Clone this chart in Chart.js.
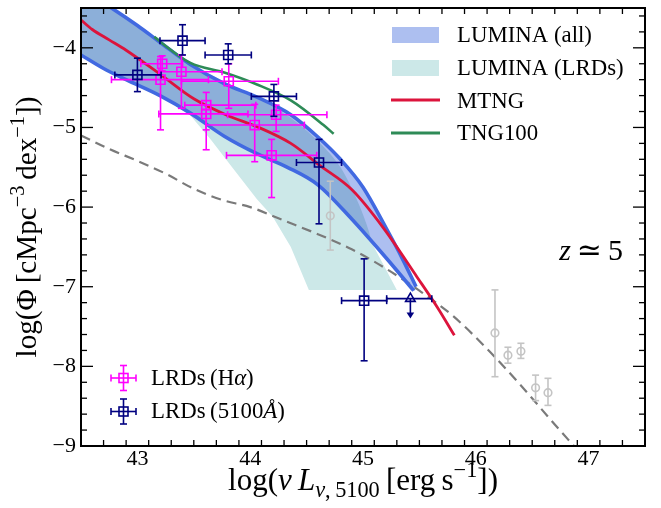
<!DOCTYPE html>
<html><head><meta charset="utf-8">
<script src="https://cdn.jsdelivr.net/npm/chart.js@4.4.0/dist/chart.umd.min.js"></script>
<style>html,body{margin:0;padding:0;background:#fff;}#wrap{width:661px;height:508px;}</style>
</head><body><div id="wrap"><canvas id="c" width="661" height="508"></canvas></div>
<script>
// ---------------- data ----------------
const xTickValues = [43, 44, 45, 46, 47];
const yTickValues = [-9, -8, -7, -6, -5, -4];

const luminaAllUpperX = [42.5, 42.76, 43.0, 43.2, 43.47, 43.77, 44.06, 44.36, 44.6, 44.8, 45.0, 45.2, 45.35, 45.47];
const luminaAllUpperY = [-3.26, -3.49, -3.72, -3.93, -4.21, -4.45, -4.62, -4.84, -5.12, -5.40, -5.75, -6.25, -6.65, -7.0];
const luminaAllLowerX = [42.5, 42.7, 42.9, 43.2, 43.47, 43.77, 44.06, 44.33, 44.6, 44.9, 45.2, 45.45];
const luminaAllLowerY = [-4.09, -4.26, -4.40, -4.60, -4.82, -5.11, -5.33, -5.50, -5.72, -6.15, -6.63, -7.05];

const luminaLrdUpperX = [42.5, 43.0, 43.47, 44.06, 44.36, 44.6, 44.8, 44.98, 45.07, 45.18, 45.30];
const luminaLrdUpperY = [-3.26, -3.72, -4.21, -4.63, -4.88, -5.17, -5.50, -6.02, -6.43, -6.72, -7.04];
const luminaLrdLowerX = [42.5, 42.9, 43.2, 43.47, 43.65, 43.85, 44.06, 44.2, 44.36, 44.52, 45.30];
const luminaLrdLowerY = [-4.09, -4.40, -4.60, -4.85, -5.15, -5.52, -5.90, -6.12, -6.50, -7.04, -7.04];

const mtngX = [42.5, 42.6, 42.75, 42.9, 43.2, 43.5, 43.8, 44.06, 44.36, 44.62, 44.9, 45.18, 45.48, 45.66, 45.81];
const mtngY = [-3.65, -3.77, -3.90, -4.03, -4.33, -4.64, -4.85, -4.99, -5.20, -5.48, -5.78, -6.26, -6.88, -7.26, -7.61];
const tng100X = [43.15, 43.2, 43.47, 43.77, 44.06, 44.36, 44.65, 44.74];
const tng100Y = [-3.86, -3.92, -4.19, -4.31, -4.46, -4.66, -4.97, -5.08];
const refX = [42.5, 42.75, 43.0, 43.25, 43.5, 43.75, 44.0, 44.3, 44.6, 44.9, 45.2, 45.5, 45.8, 46.1, 46.4, 46.7, 46.87];
const refY = [-5.10, -5.27, -5.42, -5.58, -5.77, -5.91, -6.00, -6.17, -6.34, -6.53, -6.77, -7.05, -7.37, -7.78, -8.24, -8.73, -9.0];

const haX   = [43.22, 43.205, 43.39, 43.81, 43.61, 43.61, 44.04, 44.23, 44.19];
const haY   = [-4.20, -4.40, -4.30, -4.42, -4.72, -4.83, -4.97, -4.84, -5.35];
const haXlo = [43.03, 42.77, 43.19, 43.39, 43.42, 43.19, 43.61, 43.80, 43.79];
const haXhi = [43.40, 43.63, 43.75, 44.25, 44.05, 43.98, 44.48, 44.68, 44.59];
const haYlo = [-4.29, -5.03, -4.76, -4.76, -5.03, -5.28, -5.43, -5.05, -5.88];
const haYhi = [-4.10, -4.11, -4.09, -4.20, -4.56, -4.72, -4.71, -4.72, -5.15];

const contX   = [43.00, 43.40, 43.805, 44.21, 44.61, 45.01];
const contY   = [-4.34, -3.91, -4.09, -4.61, -5.44, -7.175];
const contXlo = [42.80, 43.20, 43.60, 44.01, 44.41, 44.81];
const contXhi = [43.21, 43.60, 44.01, 44.41, 44.81, 45.21];
const contYlo = [-4.55, -4.09, -4.20, -4.86, -6.21, -7.93];
const contYhi = [-4.13, -3.71, -3.95, -4.46, -5.15, -6.65];

const limX = [45.42], limY = [-7.15], limXlo = [45.21], limXhi = [45.61], limArrowTo = [-7.40];

const grayX   = [44.71, 46.17, 46.285, 46.40, 46.53, 46.64];
const grayY   = [-6.11, -7.58, -7.86, -7.81, -8.27, -8.33];
const grayYlo = [-6.54, -8.13, -7.96, -7.90, -8.43, -8.49];
const grayYhi = [-5.675, -7.04, -7.76, -7.71, -8.11, -8.15];

// ---------------- helpers ----------------
const pts = (xs, ys) => xs.map((x, i) => ({x, y: ys[i]}));
const poly = (ux, uy, lx, ly) => pts(ux, uy).concat(pts(lx, ly).reverse());
const overlapEnd = 45.07; // where the LRD band edge meets the lower LUMINA edge
const overlapPoly = () => pts(luminaLrdUpperX, luminaLrdUpperY).filter(p => p.x <= overlapEnd)
  .concat(pts(luminaAllLowerX, luminaAllLowerY).filter(p => p.x < overlapEnd).reverse());
const errs = (xs, ys, xlo, xhi, ylo, yhi) => xs.map((x, i) => ({x, y: ys[i],
  xlo: xlo ? xlo[i] : null, xhi: xhi ? xhi[i] : null, ylo: ylo ? ylo[i] : null, yhi: yhi ? yhi[i] : null}));

const SERIF = "'Liberation Serif','Times New Roman','DejaVu Serif',serif";
const fnt = (sz, it) => (it ? 'italic ' : '') + sz + 'px ' + SERIF;
function richW(ctx, segs, sz) { let w = 0; for (const s of segs) { ctx.font = fnt(sz * (s.s || 1), s.it); w += ctx.measureText(s.t).width; } return w; }
function richDraw(ctx, segs, x, y, sz) {
  let cx = x; ctx.textAlign = 'left';
  for (const s of segs) { ctx.font = fnt(sz * (s.s || 1), s.it); ctx.fillText(s.t, cx, y + (s.dy || 0) * sz); cx += ctx.measureText(s.t).width; }
}
function fitSize(ctx, segs, w, lo, hi) { const s = w / (richW(ctx, segs, 100) / 100); return Math.max(lo, Math.min(hi, s)); }

const NAVY = '#000080', MAG = '#ff00ff', GRAY = '#c4c4c4', BLUE = '#4169e1', RED = '#dc143c', GREEN = '#2e8b57';
const ALLFILL = '#adbff0', LRDFILL = '#cce8e8', BOTHFILL = '#8cafd9';

function capLine(ctx, x1, y1, x2, y2) { ctx.beginPath(); ctx.moveTo(x1, y1); ctx.lineTo(x2, y2); ctx.stroke(); }
function drawErr(ctx, xs, ys, e, cap) {
  const px = xs.getPixelForValue(e.x), py = ys.getPixelForValue(e.y);
  if (e.xlo !== null) {
    const a = xs.getPixelForValue(e.xlo), b = xs.getPixelForValue(e.xhi);
    capLine(ctx, a, py, b, py); capLine(ctx, a, py - cap, a, py + cap); capLine(ctx, b, py - cap, b, py + cap);
  }
  if (e.ylo !== null) {
    const a = ys.getPixelForValue(e.ylo), b = ys.getPixelForValue(e.yhi);
    capLine(ctx, px, a, px, b); capLine(ctx, px - cap, a, px + cap, a); capLine(ctx, px - cap, b, px + cap, b);
  }
}

const errPlugin = {
  id: 'errbars',
  beforeDatasetDraw(chart, args) {
    const ds = chart.data.datasets[args.index];
    if (!ds.errData) return;
    const {ctx, chartArea: a} = chart, xs = chart.scales.x, ys = chart.scales.y;
    ctx.save();
    ctx.beginPath(); ctx.rect(a.left, a.top, a.right - a.left, a.bottom - a.top); ctx.clip();
    ctx.strokeStyle = ds.borderColor; ctx.fillStyle = ds.borderColor; ctx.lineWidth = 1.6; ctx.lineCap = 'butt';
    for (const e of ds.errData) drawErr(ctx, xs, ys, e, 3.5);
    if (ds.arrowTo) {
      ds.errData.forEach((e, i) => {
        const px = xs.getPixelForValue(e.x), py = ys.getPixelForValue(e.y), pe = ys.getPixelForValue(ds.arrowTo[i]);
        capLine(ctx, px, py, px, pe - 5);
        ctx.beginPath(); ctx.moveTo(px - 3.8, pe - 6); ctx.lineTo(px + 3.8, pe - 6); ctx.lineTo(px, pe); ctx.closePath(); ctx.fill();
      });
    }
    ctx.restore();
  }
};

const decorPlugin = {
  id: 'decor',
  afterDraw(chart) {
    const {ctx, chartArea: a} = chart, xs = chart.scales.x, ys = chart.scales.y;
    ctx.save();
    ctx.strokeStyle = '#000'; ctx.lineWidth = 1.3;
    const MAJ = 12, MIN = 6;
    for (let k = 0; k <= 25; k++) {
      const v = 42.5 + k * 0.2; const px = xs.getPixelForValue(v);
      if (px < a.left + 1 || px > a.right - 1) continue;
      const L = Math.abs(v - Math.round(v)) < 1e-6 ? MAJ : MIN;
      capLine(ctx, px, a.bottom, px, a.bottom - L); capLine(ctx, px, a.top, px, a.top + L);
    }
    for (let k = 0; k <= 28; k++) {
      const v = -9 + k * 0.2; const py = ys.getPixelForValue(v);
      if (py < a.top + 1 || py > a.bottom - 1) continue;
      const L = Math.abs(v - Math.round(v)) < 1e-6 ? MAJ : MIN;
      capLine(ctx, a.left, py, a.left + L, py); capLine(ctx, a.right, py, a.right - L, py);
    }
    ctx.lineWidth = 2; ctx.strokeRect(a.left, a.top, a.right - a.left, a.bottom - a.top);

    ctx.fillStyle = '#000'; ctx.textBaseline = 'alphabetic';
    // x title
    const xt = [{t: 'log('}, {t: 'ν', it: 1}, {t: '\u2009L', it: 1}, {t: 'ν', it: 1, s: 0.72, dy: 0.22}, {t: ',\u20095100', s: 0.72, dy: 0.22},
                {t: '\u2009[erg\u2009s'}, {t: '\u22121', s: 0.72, dy: -0.42}, {t: '])'}];
    const xsz = fitSize(ctx, xt, 298, 20, 31);
    richDraw(ctx, xt, (a.left + a.right) / 2 - richW(ctx, xt, xsz) / 2, 490, xsz);
    // y title
    const yt = [{t: 'log(Φ\u2009[cMpc'}, {t: '\u22123', s: 0.7, dy: -0.42}, {t: '\u2009dex'}, {t: '\u22121', s: 0.7, dy: -0.42}, {t: '])'}];
    const ysz = fitSize(ctx, yt, 261, 20, 30);
    ctx.save(); ctx.translate(36, (a.top + a.bottom) / 2); ctx.rotate(-Math.PI / 2);
    richDraw(ctx, yt, -richW(ctx, yt, ysz) / 2, 0, ysz); ctx.restore();

    // legend top right
    const lsz = fitSize(ctx, [{t: 'LUMINA (all)'}], 135, 18, 26);
    ctx.fillStyle = ALLFILL; ctx.fillRect(392, 27, 47, 16);
    ctx.fillStyle = LRDFILL; ctx.fillRect(392, 60, 47, 16);
    ctx.lineWidth = 3; ctx.strokeStyle = RED; capLine(ctx, 391, 100, 440, 100);
    ctx.strokeStyle = GREEN; capLine(ctx, 391, 133, 440, 133);
    ctx.fillStyle = '#000'; ctx.textBaseline = 'middle';
    richDraw(ctx, [{t: 'LUMINA (all)'}], 457, 36, lsz);
    richDraw(ctx, [{t: 'LUMINA (LRDs)'}], 457, 69, lsz);
    richDraw(ctx, [{t: 'MTNG'}], 457, 102, lsz);
    richDraw(ctx, [{t: 'TNG100'}], 457, 134, lsz);

    // legend bottom left
    const legM = (cy, col) => {
      ctx.strokeStyle = col; ctx.lineWidth = 1.6;
      capLine(ctx, 111, cy, 136, cy); capLine(ctx, 111, cy - 3.5, 111, cy + 3.5); capLine(ctx, 136, cy - 3.5, 136, cy + 3.5);
      capLine(ctx, 123.5, cy - 12.5, 123.5, cy + 12.5); capLine(ctx, 120, cy - 12.5, 127, cy - 12.5); capLine(ctx, 120, cy + 12.5, 127, cy + 12.5);
      ctx.strokeRect(119, cy - 4.5, 9, 9);
    };
    legM(378, MAG); legM(411.5, NAVY);
    ctx.fillStyle = '#000';
    richDraw(ctx, [{t: 'LRDs\u2009(H'}, {t: 'α', it: 1}, {t: ')'}], 151, 379, lsz);
    richDraw(ctx, [{t: 'LRDs\u2009(5100'}, {t: 'Å', it: 1}, {t: ')'}], 151, 412, lsz);

    // redshift label
    ctx.textBaseline = 'alphabetic';
    const zt = [{t: 'z', it: 1}, {t: '\u2009≃\u20095'}];
    richDraw(ctx, zt, 623 - richW(ctx, zt, 30), 260, 30);
    ctx.restore();
  }
};

// ---------------- chart ----------------
const lineDs = (label, data, color, width, order, extra) => Object.assign({
  label, data, showLine: true, borderColor: color, borderWidth: width, pointRadius: 0, fill: false,
  cubicInterpolationMode: 'monotone', order, clip: 0
}, extra || {});
const bandDs = (label, data, color, tension, order) => ({label, data, showLine: true, borderWidth: 0,
  borderColor: 'rgba(0,0,0,0)', pointRadius: 0, fill: 'shape', backgroundColor: color, tension, order, clip: 0});

const datasets = [
  {label: 'LRDs (5100Å)', data: pts(contX, contY), errData: errs(contX, contY, contXlo, contXhi, contYlo, contYhi),
   pointStyle: 'rect', pointRadius: 6.4, borderColor: NAVY, backgroundColor: 'rgba(0,0,0,0)', borderWidth: 1.6, order: 1, clip: 0},
  {label: 'LRDs (5100Å) limit', data: pts(limX, limY), errData: errs(limX, limY, limXlo, limXhi, null, null), arrowTo: limArrowTo,
   pointStyle: 'triangle', pointRadius: 5.5, borderColor: NAVY, backgroundColor: 'rgba(0,0,0,0)', borderWidth: 1.6, order: 1, clip: 0},
  {label: 'LRDs (Hα)', data: pts(haX, haY), errData: errs(haX, haY, haXlo, haXhi, haYlo, haYhi),
   pointStyle: 'rect', pointRadius: 6.4, borderColor: MAG, backgroundColor: 'rgba(0,0,0,0)', borderWidth: 1.6, order: 2, clip: 0},
  {label: 'other', data: pts(grayX, grayY), errData: errs(grayX, grayY, null, null, grayYlo, grayYhi),
   pointStyle: 'circle', pointRadius: 3.8, borderColor: GRAY, backgroundColor: 'rgba(0,0,0,0)', borderWidth: 1.6, order: 3, clip: 0},
  lineDs('TNG100', pts(tng100X, tng100Y), GREEN, 2.6, 4),
  lineDs('MTNG', pts(mtngX, mtngY), RED, 2.8, 5),
  lineDs('LUMINA upper', pts(luminaAllUpperX, luminaAllUpperY), BLUE, 3.6, 6),
  lineDs('LUMINA lower', pts(luminaAllLowerX, luminaAllLowerY), BLUE, 3.6, 6),
  lineDs('reference', pts(refX, refY), '#7a7a7a', 2.2, 7, {borderDash: [10, 6]}),
  bandDs('LUMINA (all) ∩ (LRDs)', overlapPoly(), BOTHFILL, 0.3, 8),
  bandDs('LUMINA (all)', poly(luminaAllUpperX, luminaAllUpperY, luminaAllLowerX, luminaAllLowerY), ALLFILL, 0.3, 9),
  bandDs('LUMINA (LRDs)', poly(luminaLrdUpperX, luminaLrdUpperY, luminaLrdLowerX, luminaLrdLowerY), LRDFILL, 0, 10)
];

const minus = v => (v < 0 ? '\u2212' + Math.abs(v) : String(v));

new Chart(document.getElementById('c'), {
  type: 'scatter',
  data: {datasets},
  options: {
    responsive: false, animation: false, devicePixelRatio: 1,
    layout: {padding: {left: 0, right: 16, top: 7, bottom: 0}},
    plugins: {legend: {display: false}, tooltip: {enabled: false}, filler: {drawTime: 'beforeDatasetDraw'}},
    scales: {
      x: {type: 'linear', min: 42.5, max: 47.5,
          afterBuildTicks: s => { s.ticks = xTickValues.map(v => ({value: v})); },
          afterFit: s => { s.height = 62; s.paddingLeft = 0; s.paddingRight = 0; },
          grid: {display: false, drawTicks: false}, border: {display: false},
          ticks: {callback: minus, font: {family: SERIF, size: 22}, color: '#000', padding: 0, maxRotation: 0}},
      y: {type: 'linear', min: -9, max: -3.5,
          afterBuildTicks: s => { s.ticks = yTickValues.map(v => ({value: v})); },
          afterFit: s => { s.width = 81; s.paddingTop = 0; s.paddingBottom = 0; },
          grid: {display: false, drawTicks: false}, border: {display: false},
          ticks: {callback: minus, font: {family: SERIF, size: 22}, color: '#000', padding: 5}}
    }
  },
  plugins: [errPlugin, decorPlugin]
});
</script></body></html>
